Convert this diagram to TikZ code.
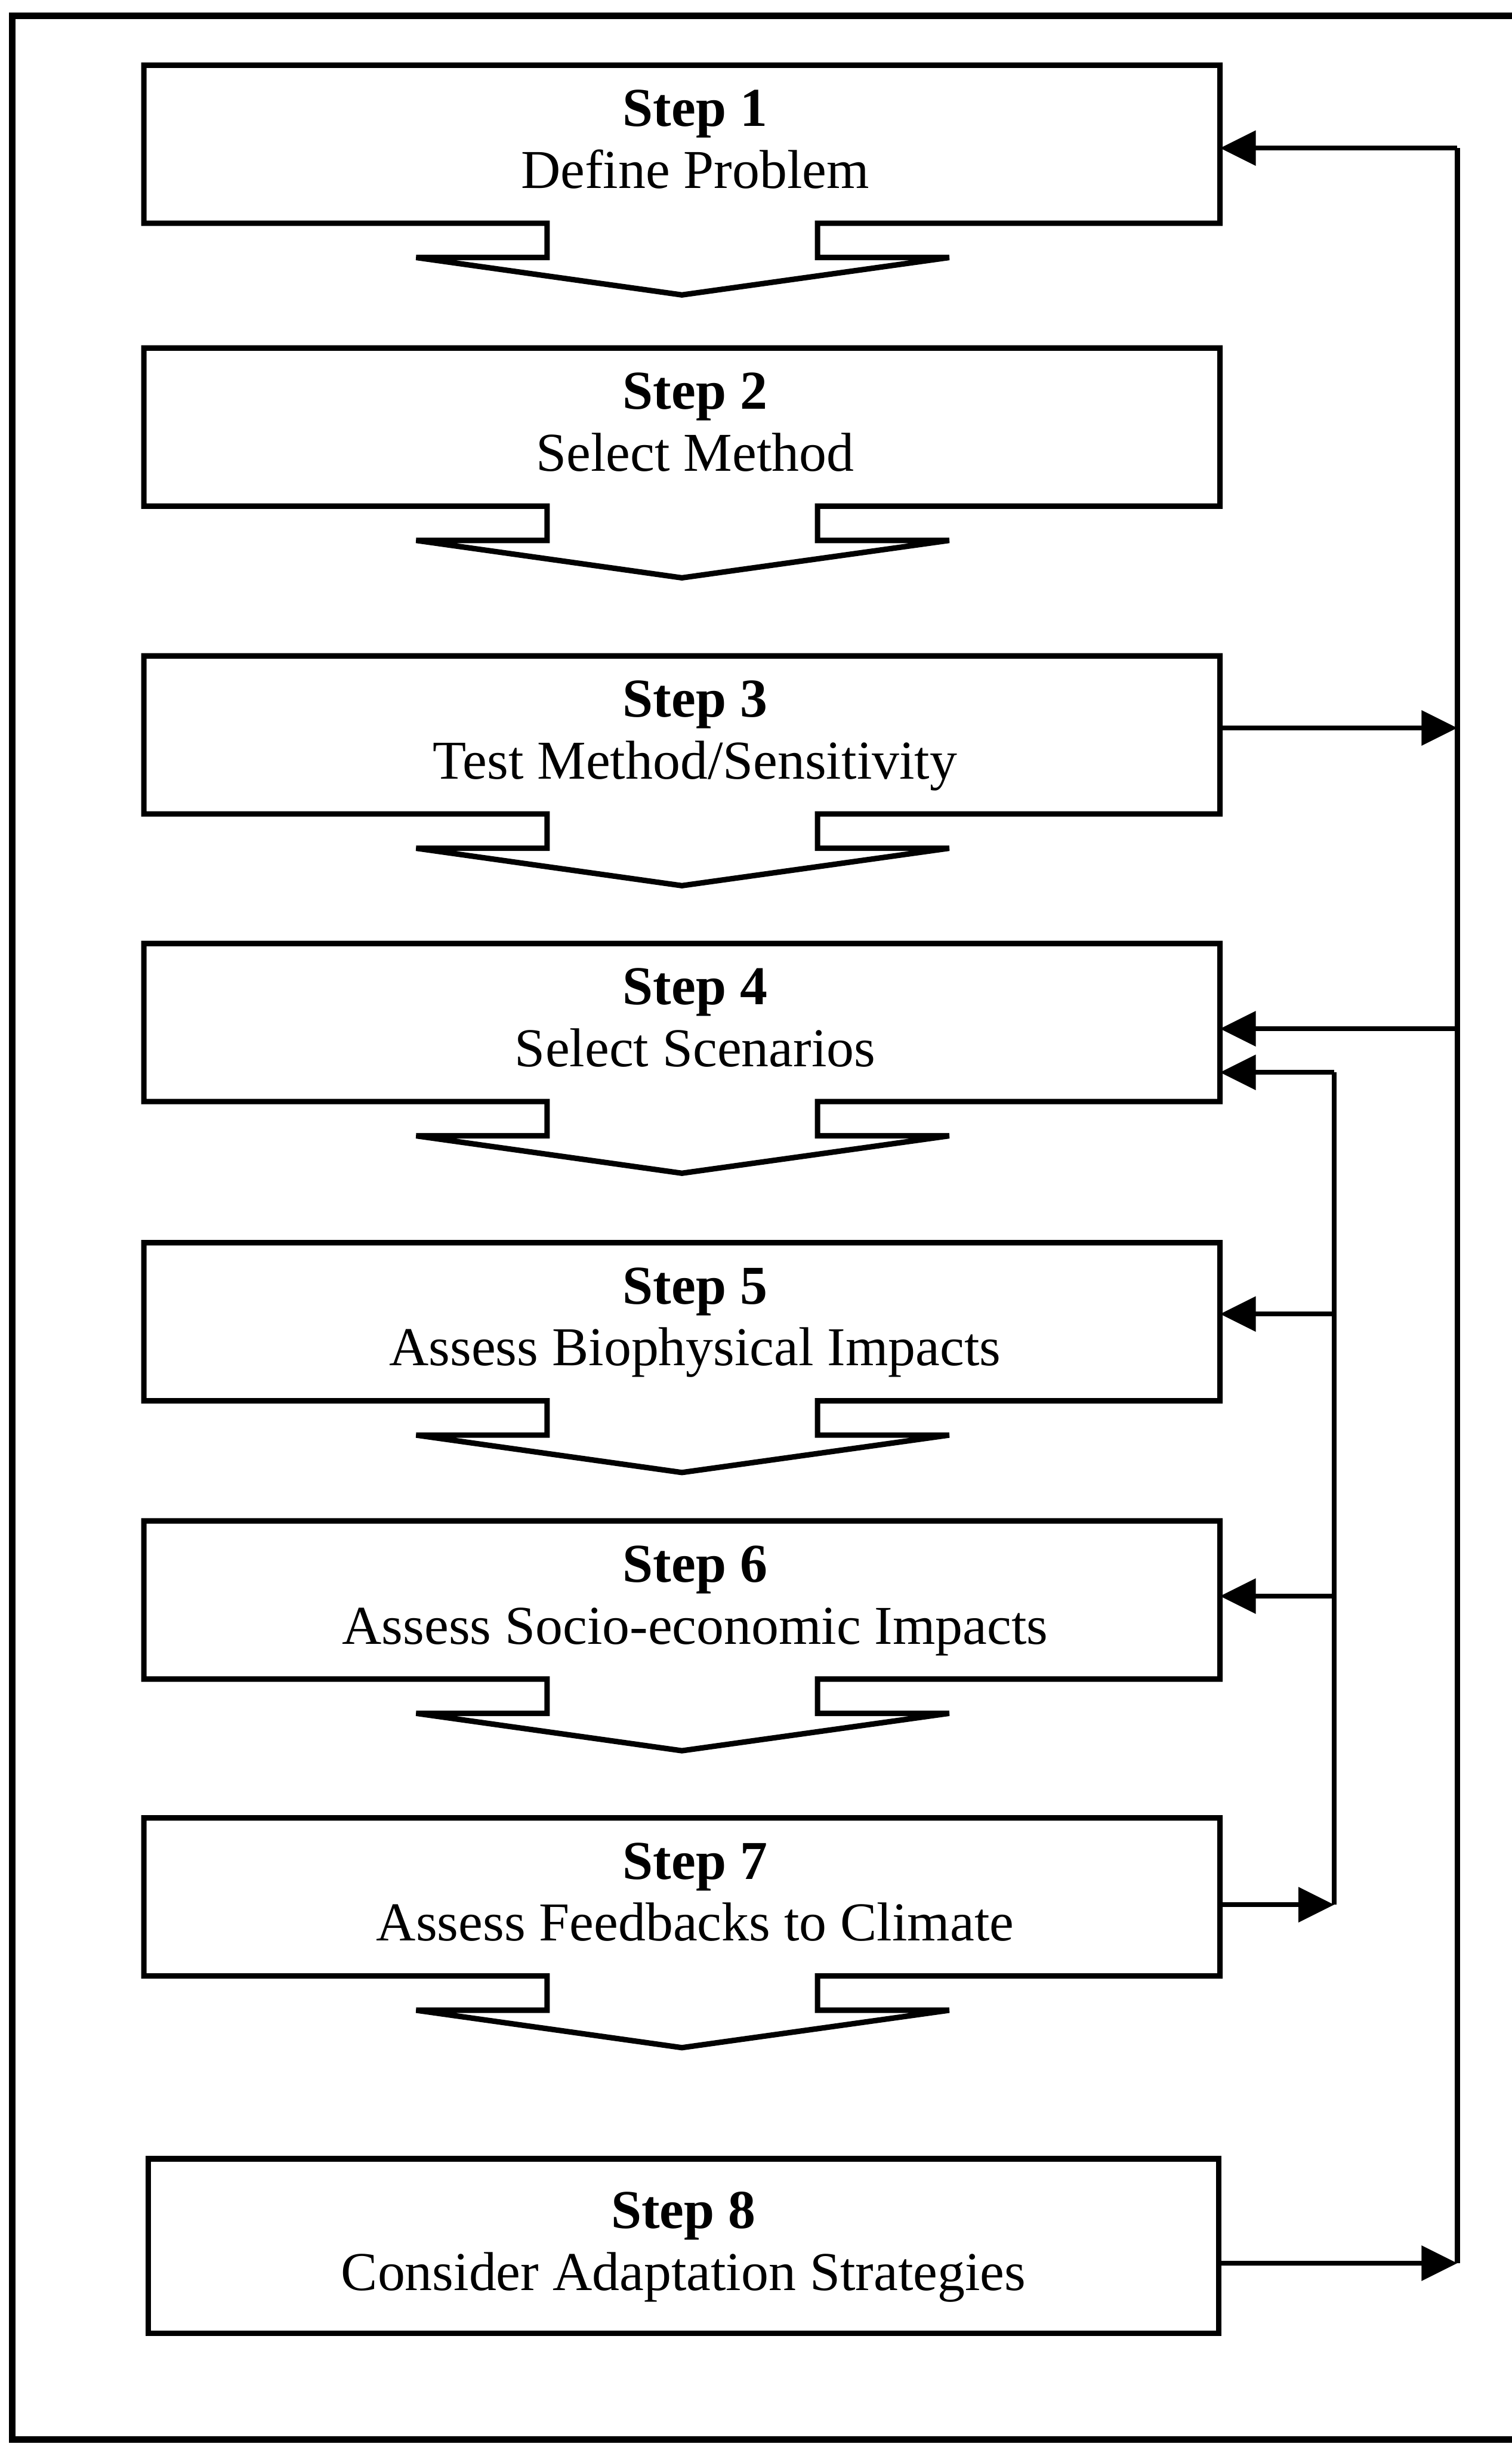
\documentclass[tikz,border=0pt]{standalone}
\usepackage{fontspec}
\setmainfont{Liberation Serif}
\usetikzlibrary{arrows.meta,positioning,calc}

\tikzset{
  stepbox/.style={minimum width=68.9mm, minimum height=10mm, inner sep=0pt},
  steptext/.style={align=center, inner sep=0pt, text depth=0.66mm,
    font=\fontsize{10}{11.3}\selectfont},
  steplabel/.style={steptext, xshift=0.85mm},
  outline/.style={line width=1pt, line join=miter},
  fb/.style={line width=0.9pt, -{Triangle[length=2.3mm,width=2.2mm]}},
}

% box outline with the wide arrow underneath
\newcommand{\downbox}[1]{%
  \draw[outline] ([xshift=8.7mm]#1.south) -- (#1.south east) -- (#1.north east)
    -- (#1.north west) -- (#1.south west) -- ([xshift=-8.65mm]#1.south)
    -- ([xshift=-8.65mm,yshift=-2.2mm]#1.south)
    -- ([xshift=-17.05mm,yshift=-2.2mm]#1.south)
    -- ([yshift=-4.6mm]#1.south)
    -- ([xshift=17.15mm,yshift=-2.2mm]#1.south)
    -- ([xshift=8.7mm,yshift=-2.2mm]#1.south) -- cycle;}

\begin{document}
\begin{tikzpicture}[x=0.1mm,y=-0.1mm]
   \useasboundingbox (0,0) rectangle (970,1568);
   \draw[line width=1.2pt] (985,10) -- (8,10) -- (8,1565) -- (985,1565);

   \node[stepbox,label={[steplabel]center:{\textbf{Step 1}\\Define Problem}}] (s1) at (437.5,92.5) {};
   \node[stepbox,label={[steplabel]center:{\textbf{Step 2}\\Select Method}}] (s2) at (437.5,274) {};
   \node[stepbox,label={[steplabel]center:{\textbf{Step 3}\\Test Method/Sensitivity}}] (s3) at (437.5,471.5) {};
   \node[stepbox,label={[steplabel]center:{\textbf{Step 4}\\Select Scenarios}}] (s4) at (437.5,656) {};
   \node[stepbox,label={[steplabel]center:{\textbf{Step 5}\\Assess Biophysical Impacts}}] (s5) at (437.5,848) {};
   \node[stepbox,label={[steplabel]center:{\textbf{Step 6}\\Assess Socio-economic Impacts}}] (s6) at (437.5,1026.5) {};
   \node[stepbox,label={[steplabel]center:{\textbf{Step 7}\\Assess Feedbacks to Climate}}] (s7) at (437.5,1217) {};
   \node[stepbox,steptext,draw,outline,minimum width=68.7mm,minimum height=11.2mm] (s8) at (438.5,1441) {\textbf{Step 8}\\Consider Adaptation Strategies};

   \foreach \n in {1,...,7} \downbox{s\n};

   % feedback loops on the right
   \coordinate (o1) at (935,95);
   \coordinate (o3) at (935,467);
   \coordinate (o4) at (935,660);
   \coordinate (o8) at (935,1452);
   \coordinate (i4) at (856,688);
   \coordinate (i5) at (856,843);
   \coordinate (i6) at (856,1024);
   \coordinate (i7) at (856,1222);
   \draw[line width=0.9pt] (o1) -- (o8);
   \draw[line width=0.9pt] (i4) -- (i7);
   \path[fb] (o1) edge (o1 -| s1.east);
   \path[fb] (s3.east |- o3) edge (o3);
   \path[fb] (o4) edge (o4 -| s4.east);
   \path[fb] (s8.east |- o8) edge (o8);
   \path[fb] (i4) edge (i4 -| s4.east);
   \path[fb] (i5) edge (i5 -| s5.east);
   \path[fb] (i6) edge (i6 -| s6.east);
   \path[fb] (s7.east |- i7) edge (i7);
\end{tikzpicture}
\end{document}
